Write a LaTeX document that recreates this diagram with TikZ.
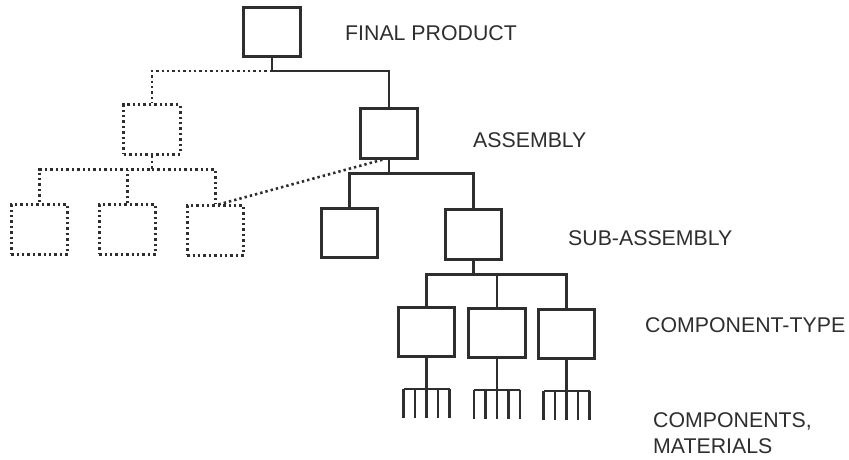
\documentclass[tikz,border=0pt]{standalone}
\usepackage{fontspec}
\setmainfont{Liberation Sans}
\usepackage{tikz}
\usetikzlibrary{calc}
\definecolor{ink}{HTML}{2E2E2E}
\tikzset{
  box/.style={draw=ink, line width=2.6pt, minimum width=56.5pt, minimum height=49.5pt, inner sep=0pt},
  dbox/.style={box, dash pattern=on 2.4pt off 3pt},
  tree/.style={draw=ink, line width=2.6pt},
  dtree/.style={tree, dash pattern=on 2.4pt off 3pt},
  lab/.style={anchor=west, text=ink, font=\fontsize{21.3}{26}\selectfont, inner sep=0pt, align=left}
}

\begin{document}
\begin{tikzpicture}[x=1pt, y=-1pt]
\useasboundingbox (0,0) rectangle (849,459);
% boxes
\node [box] (fp) at (272,32) {};
\node [box] (asm) at (389,133.5) {};
\node [dbox] (dasm) at (152,129.5) {};
\node [box] (sa1) at (349.5,233) {};
\node [box] (sa2) at (473.5,234.5) {};
\node [dbox] (d1) at (39.5,229.5) {};
\node [dbox] (d2) at (127.5,229.5) {};
\node [dbox] (d3) at (215.5,230.5) {};
\node [box] (c1) at (426.5,332) {};
\node [box] (c2) at (497,333) {};
\node [box] (c3) at (566.5,334) {};
% labels
\node [lab] (lfp) at (345,33) {FINAL PRODUCT};
\node [lab] (lasm) at (473,140) {ASSEMBLY};
\node [lab] (lsa) at (568,238) {SUB-ASSEMBLY};
\node [lab] (lct) at (645,325) {COMPONENT-TYPE};
\node [lab] (lcm) at (653,433) {COMPONENTS,\\MATERIALS};
% tree
\draw [tree] (fp.south) -- ++(0,13) coordinate (fpj) -| (asm.north);
\draw [dtree] (fpj) -| (dasm.north);
\draw [tree] (asm.south) -- ++(0,14) coordinate (asmj) -| (sa1.north) (asmj) -| (sa2.north);
\draw [dtree] (dasm.south) -- ++(0,14) coordinate (dasmj) -| (d1.north) (dasmj) -| (d3.north)
  (d2.north) -- (d2.north |- dasmj);
\draw [dtree] ([xshift=3pt]d3.north) -- ([xshift=-6pt]asm.south);
\draw [tree] (sa2.south) -- ++(0,14) coordinate (sa2j) -| (c1.north) (sa2j) -| (c3.north)
  (c2.north) -- (c2.north |- sa2j);
% combs
\foreach \c in {c1,c2,c3} {
  \draw [tree] (\c.south) -- ++(0,31) coordinate (\c-j);
  \draw [tree] ([xshift=-23pt]\c-j) -- ([xshift=23pt]\c-j);
  \foreach \t in {-23,-11.5,11.5,23}
    \draw [tree] ([xshift=\t pt]\c-j) -- ++(0,29);
  \draw [tree] (\c-j) -- ++(0,29);
}
\end{tikzpicture}
\end{document}
